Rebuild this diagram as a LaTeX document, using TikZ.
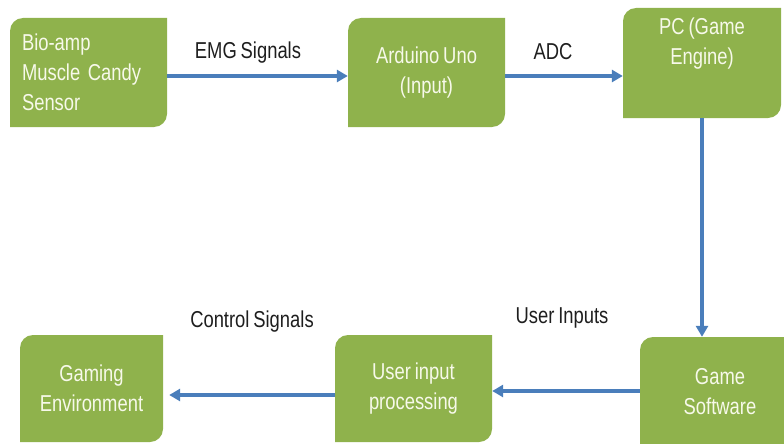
\documentclass[tikz,border=0pt]{standalone}
\usepackage{fontspec}
\setmainfont[FakeStretch=0.8,WordSpace=0.75]{Liberation Sans}
\usetikzlibrary{arrows.meta}
\definecolor{boxgreen}{HTML}{8FB24C}
\definecolor{arrowblue}{HTML}{4A7EBB}
\definecolor{boxtext}{HTML}{F7F9EA}
\definecolor{labeltext}{HTML}{1E1E1E}
\begin{document}
\begin{tikzpicture}[x=1pt,y=-1pt,
  gbox/.style={minimum width=#1, minimum height=109pt, inner sep=0pt, text=boxtext,
    align=center, font=\fontsize{23}{30}\selectfont,
    path picture={\fill[boxgreen] (path picture bounding box.south west)
      [rounded corners=13pt] -- (path picture bounding box.north west)
      [sharp corners] -- (path picture bounding box.north east)
      [rounded corners=13pt] -- (path picture bounding box.south east)
      [sharp corners] -- cycle;}},
  gbox/.default=157pt,
  boxlabel/.style={text=boxtext, align=center, font=\fontsize{23}{30}\selectfont, inner sep=0pt},
  flowlabel/.style={text=labeltext, font=\fontsize{23}{28}\selectfont, inner sep=0pt},
  flow/.style={draw=arrowblue, line width=4pt, -{Triangle[length=11pt,width=12pt]}}]
\useasboundingbox (0,0) rectangle (784,444);
% boxes
\node[gbox, align=left, text width=133pt] (b1) at (88.5,72.5) {Bio-amp\\Muscle Candy\\Sensor};
\node[gbox] (b2) at (426.5,72.5) {Arduino Uno\\(Input)};
\node[gbox=158pt, minimum height=110pt] (b3) at (702,63) {};
\node[boxlabel] (t3) at (702,44) {PC (Game\\Engine)};
\node[gbox=160pt, minimum height=110pt] (b4) at (720,392) {Game\\Software};
\node[gbox, minimum height=107pt] (b5) at (413.5,388.5) {User input\\processing};
\node[gbox=143pt, minimum height=107pt] (b6) at (91.5,388.5) {Gaming\\Environment};
% connectors
\coordinate (a1s) at (b1.east |- 0,76);
\coordinate (a1e) at (b2.west |- 0,76);
\draw[flow] (a1s) -- (a1e);
\coordinate (a2s) at (b2.east |- 0,76);
\coordinate (a2e) at (b3.west |- 0,76);
\draw[flow] (a2s) -- (a2e);
\draw[flow] (b3.south) -- (b3.south |- b4.north);
\coordinate (a4s) at (b4.west |- 0,391);
\coordinate (a4e) at (b5.east |- 0,391);
\draw[flow] (a4s) -- (a4e);
\coordinate (a5s) at (b5.west |- 0,395);
\coordinate (a5e) at ([xshift=6pt]b6.east |- 0,395);
\draw[flow] (a5s) -- (a5e);
% labels
\node[flowlabel] (l1) at (248,53) {EMG Signals};
\node[flowlabel] (l2) at (553,52) {ADC};
\node[flowlabel] (l3) at (252,322) {Control Signals};
\node[flowlabel] (l4) at (562,318) {User Inputs};
\end{tikzpicture}
\end{document}
